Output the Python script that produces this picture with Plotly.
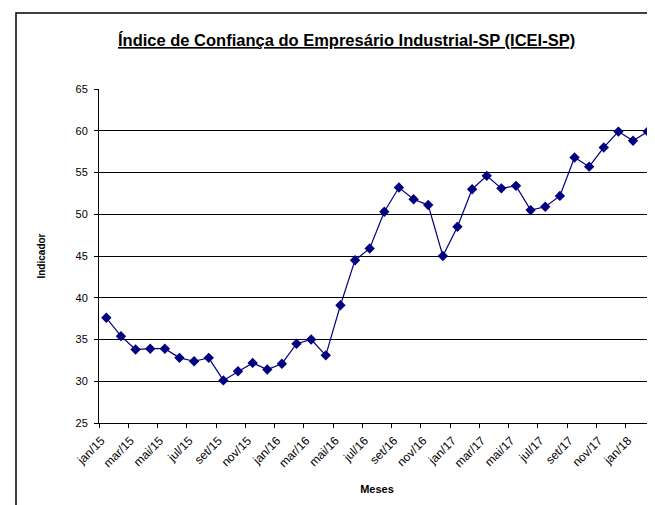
import plotly.graph_objects as go

months = ["jan", "fev", "mar", "abr", "mai", "jun", "jul", "ago", "set", "out", "nov", "dez"]
categories = [f"{m}/{y}" for y in ["15", "16", "17", "18"] for m in months][:38]

icei = [37.6, 35.4, 33.8, 33.9, 33.9, 32.8, 32.4, 32.8, 30.1, 31.2,
        32.2, 31.4, 32.1, 34.5, 35.0, 33.1, 39.1, 44.5, 45.9, 50.3,
        53.2, 51.8, 51.1, 45.0, 48.5, 53.0, 54.6, 53.1, 53.4, 50.5,
        50.9, 52.2, 56.8, 55.7, 58.0, 59.9, 58.8, 59.9]

title_text = "Índice de Confiança do Empresário Industrial-SP (ICEI-SP)"
x_title = "Meses"
y_title = "Indicador"

# page body has an 8px margin; figure sized so plot area lands at the reference position
OFF = 8
W, H = 647, 497
L, R, T, B = 91, 0, 81, 82
pw = W - L - R
ph = H - T - B

fig = go.Figure()
fig.add_trace(go.Scatter(
    x=categories, y=icei, mode="lines+markers",
    line=dict(color="#000080", width=1.2),
    marker=dict(symbol="diamond", size=8, color="#000080"),
    showlegend=False,
))

font_family = "Liberation Sans, Arial, sans-serif"

def px_x(ax):
    return (ax - OFF - L) / pw

def px_y(ay):
    return (H - B - (ay - OFF)) / ph

fig.update_layout(
    width=W, height=H,
    margin=dict(l=L, r=R, t=T, b=B),
    paper_bgcolor="white", plot_bgcolor="white",
    font=dict(family=font_family, color="black", size=11),
    xaxis=dict(
        type="category", range=[-0.5, 37.5],
        tickmode="linear", tick0=0, dtick=2,
        tickson="boundaries", ticks="outside", ticklen=4, tickcolor="black",
        tickangle=-45, ticklabelshift=-5, ticklabelstandoff=5,
        showgrid=False, showline=True, linecolor="black", linewidth=1,
        tickfont=dict(size=12, family=font_family),
        title=dict(text=f"<b>{x_title}</b>", font=dict(size=11), standoff=16),
    ),
    yaxis=dict(
        range=[25, 65], dtick=5, tick0=25,
        ticks="outside", ticklen=4, tickcolor="black",
        ticklabelstandoff=4,
        showgrid=True, gridcolor="black", gridwidth=1,
        showline=True, linecolor="black", linewidth=1,
        tickfont=dict(size=11, family=font_family),
        title=dict(text=f"<b>{y_title}</b>", font=dict(size=10), standoff=28),
        zeroline=False,
    ),
    annotations=[dict(
        text=f"<b><u>{title_text}</u></b>",
        xref="paper", yref="paper",
        x=px_x(346), y=px_y(40),
        xanchor="center", yanchor="middle", showarrow=False,
        font=dict(size=16.5, family=font_family, color="black"),
    )],
    shapes=[dict(
        type="rect", xref="paper", yref="paper",
        x0=px_x(16), x1=1.2,
        y0=-0.5, y1=px_y(13),
        line=dict(color="black", width=1.5), fillcolor="rgba(0,0,0,0)",
        layer="above",
    )],
)

fig.write_html("out.html")
